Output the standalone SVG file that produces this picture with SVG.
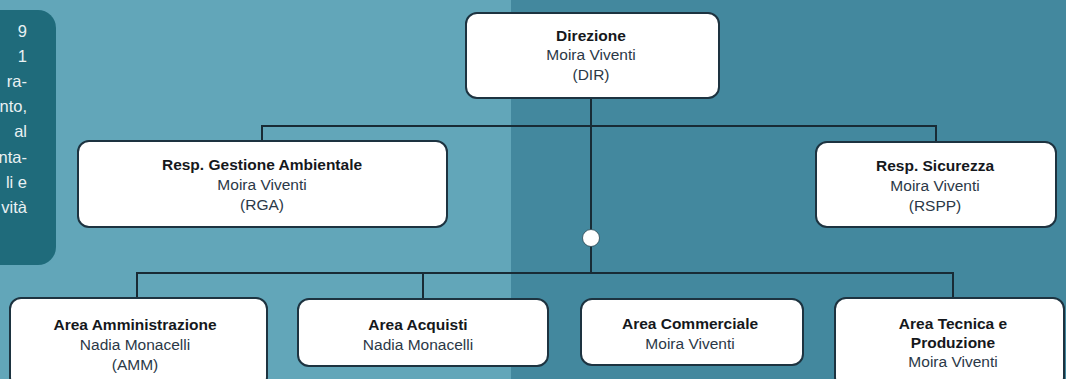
<svg xmlns="http://www.w3.org/2000/svg" width="1066" height="379" viewBox="0 0 1066 379">
  <style>
    .box { fill: #ffffff; stroke: #1d3340; stroke-width: 2; }
    .t { font-family: "Liberation Sans", Arial, sans-serif; font-size: 15.5px; text-anchor: middle; }
    .b { font-weight: bold; fill: #15181c; }
    .n { fill: #2b3847; }
    .side { font-family: "Liberation Sans", Arial, sans-serif; font-size: 16.5px; fill: #e9f1f3; text-anchor: end; }
    .ln { fill: none; stroke: #182b35; stroke-width: 2; }
  </style>
  <rect x="0" y="0" width="511" height="379" fill="#62a6b9"/>
  <rect x="511" y="0" width="555" height="379" fill="#43889e"/>

  <g id="side-panel">
    <rect x="-20" y="10" width="76" height="255" rx="18" fill="#1f6b7b"/>
    <text class="side" x="27" y="37">9</text>
    <text class="side" x="27" y="62">1</text>
    <text class="side" x="27" y="87">ra-</text>
    <text class="side" x="27" y="112">nto,</text>
    <text class="side" x="27" y="137">al</text>
    <text class="side" x="27" y="163">nta-</text>
    <text class="side" x="27" y="188">li e</text>
    <text class="side" x="27" y="213">vità</text>
  </g>

  <g id="connectors">
    <polyline class="ln" points="262,141 262,126 936,126 936,142"/>
    <line class="ln" x1="591" y1="98" x2="591" y2="273"/>
    <polyline class="ln" points="137,298 137,273 953,273 953,298"/>
    <line class="ln" x1="423" y1="273" x2="423" y2="298"/>
    <circle cx="591" cy="238" r="8.5" fill="#ffffff" stroke="#2a4652" stroke-width="0.8"/>
  </g>

  <g id="node-dir">
    <rect class="box" x="466" y="13" width="253" height="85" rx="11"/>
    <text class="t b" x="591" y="41">Direzione</text>
    <text class="t n" x="591" y="60">Moira Viventi</text>
    <text class="t n" x="591" y="80">(DIR)</text>
  </g>

  <g id="node-rga">
    <rect class="box" x="78" y="141" width="369" height="86" rx="11"/>
    <text class="t b" x="262" y="170">Resp. Gestione Ambientale</text>
    <text class="t n" x="262" y="190">Moira Viventi</text>
    <text class="t n" x="262" y="210">(RGA)</text>
  </g>

  <g id="node-rspp">
    <rect class="box" x="816" y="142" width="240" height="85" rx="11"/>
    <text class="t b" x="935" y="171">Resp. Sicurezza</text>
    <text class="t n" x="935" y="191">Moira Viventi</text>
    <text class="t n" x="935" y="211">(RSPP)</text>
  </g>

  <g id="node-amm">
    <rect class="box" x="10" y="298" width="257" height="90" rx="11"/>
    <text class="t b" x="135" y="330">Area Amministrazione</text>
    <text class="t n" x="135" y="350">Nadia Monacelli</text>
    <text class="t n" x="135" y="370">(AMM)</text>
  </g>

  <g id="node-acq">
    <rect class="box" x="298" y="299" width="250" height="67" rx="11"/>
    <text class="t b" x="418" y="330">Area Acquisti</text>
    <text class="t n" x="418" y="350">Nadia Monacelli</text>
  </g>

  <g id="node-comm">
    <rect class="box" x="581" y="299" width="222" height="66" rx="11"/>
    <text class="t b" x="690" y="329">Area Commerciale</text>
    <text class="t n" x="690" y="349">Moira Viventi</text>
  </g>

  <g id="node-tec">
    <rect class="box" x="835" y="298" width="229" height="90" rx="11"/>
    <text class="t b" x="953" y="329">Area Tecnica e</text>
    <text class="t b" x="953" y="348">Produzione</text>
    <text class="t n" x="953" y="367">Moira Viventi</text>
  </g>
</svg>
